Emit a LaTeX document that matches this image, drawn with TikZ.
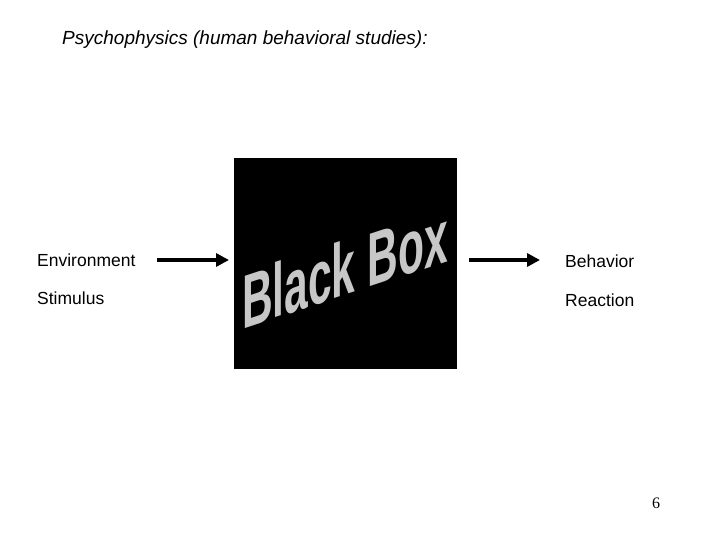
\documentclass[tikz,border=0pt]{standalone}
\usepackage{fontspec}
\setmainfont{Liberation Sans}
\newfontfamily\serifnum{Liberation Serif}
\usetikzlibrary{arrows.meta}
\begin{document}
\begin{tikzpicture}[x=1pt,y=-1pt,
  lbl/.style={anchor=west,inner sep=0pt,font=\fontsize{17.5}{17}\selectfont},
  arr/.style={line width=4pt,-{Triangle[length=13pt,width=13pt]}}]
\useasboundingbox (0,0) rectangle (720,540);
\node[anchor=west,inner sep=0pt,font=\fontsize{19}{19}\selectfont\itshape] (t) at (62,40) {Psychophysics (human behavioral studies):};
\fill[black] (234,158) rectangle (457,369);
\node[inner sep=0pt,text=black!22,yslant=0.33,xscale=0.56,font=\fontsize{76}{76}\selectfont\bfseries] (bb) at (345,268) {Black Box};
\coordinate (bl) at (229,260);
\coordinate (br) at (469,260);
\node[lbl] (env) at (37,260) {Environment};
\node[lbl] (sti) at (37,298) {Stimulus};
\node[lbl] (beh) at (565,261) {Behavior};
\node[lbl] (rea) at (565,300) {Reaction};
\coordinate (as) at (157,260);
\coordinate (be) at (540,260);
\draw[arr] (as) -- (bl);
\draw[arr] (br) -- (be);
\node[inner sep=0pt,font=\fontsize{16}{16}\selectfont\serifnum] (n) at (656,503) {6};
\end{tikzpicture}
\end{document}
